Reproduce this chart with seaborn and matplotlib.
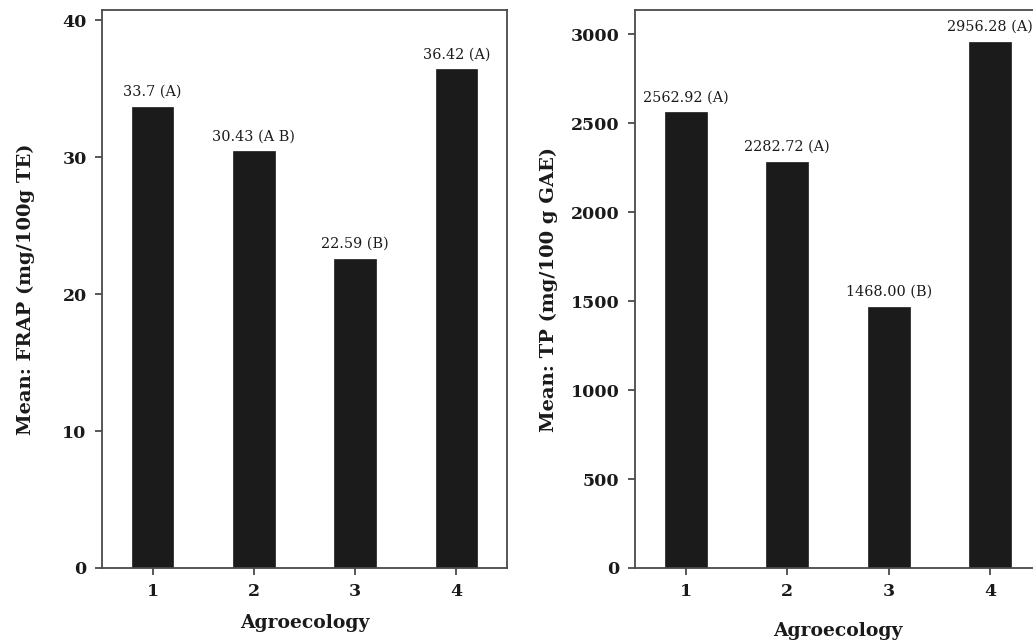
import matplotlib
matplotlib.use("Agg")
import matplotlib.pyplot as plt
import seaborn as sns
import pandas as pd

# Mean antioxidant values per agroecology
agroecology = ["1", "2", "3", "4"]
frap_means = [33.7, 30.43, 22.59, 36.42]
frap_labels = ["33.7 (A)", "30.43 (A B)", "22.59 (B)", "36.42 (A)"]
tp_means = [2562.92, 2282.72, 1468.00, 2956.28]
tp_labels = ["2562.92 (A)", "2282.72 (A)", "1468.00 (B)", "2956.28 (A)"]

sns.set_style("ticks")
plt.rcParams["font.family"] = ["DejaVu Serif"]

W, H = 1033, 644
fig = plt.figure(figsize=(W / 100, H / 100), dpi=100)

def px_axes(left, top, right, bottom):
    return fig.add_axes([left / W, 1 - bottom / H, (right - left) / W, (bottom - top) / H])

ax1 = px_axes(102, 10, 507, 568)
ax2 = px_axes(635, 10, 1041, 568)

bar_color = "#1b1b1b"
spine_color = "#4a4a4a"

panels = [
    (ax1, frap_means, frap_labels, "Mean: FRAP (mg/100g TE)", (0, 40.75), [0, 10, 20, 30, 40], 10, 20),
    (ax2, tp_means, tp_labels, "Mean: TP (mg/100 g GAE)", (0, 3135), [0, 500, 1000, 1500, 2000, 2500, 3000], 16, 9),
]

for ax, vals, labels, ylabel, ylim, yticks, xpad, ypad in panels:
    df = pd.DataFrame({"Agroecology": agroecology, "value": vals})
    sns.barplot(data=df, x="Agroecology", y="value", ax=ax, color=bar_color,
                width=0.41, saturation=1, edgecolor=bar_color, linewidth=0.5)
    for patch, lab in zip(ax.patches, labels):
        ax.annotate(lab, (patch.get_x() + patch.get_width() / 2, patch.get_height()),
                    xytext=(0, 5.5), textcoords="offset points", ha="center", va="bottom",
                    fontsize=10.4, color="#1a1a1a")
    ax.set_xlim(-0.5, 3.5)
    ax.set_ylim(*ylim)
    ax.set_yticks(yticks)
    ax.set_xlabel("Agroecology", fontsize=13.5, fontweight="bold", labelpad=xpad, color="#1a1a1a")
    ax.set_ylabel(ylabel, fontsize=14, fontweight="bold", labelpad=ypad, color="#1a1a1a")
    for s in ax.spines.values():
        s.set_visible(True)
        s.set_color(spine_color)
        s.set_linewidth(1.3)
    ax.tick_params(axis="both", direction="out", length=5, width=1.3, color=spine_color,
                   labelsize=12.5, labelcolor="#1a1a1a", pad=6)
    for t in ax.get_xticklabels() + ax.get_yticklabels():
        t.set_fontweight("bold")

fig.savefig("out.png", dpi=100, facecolor="white")
